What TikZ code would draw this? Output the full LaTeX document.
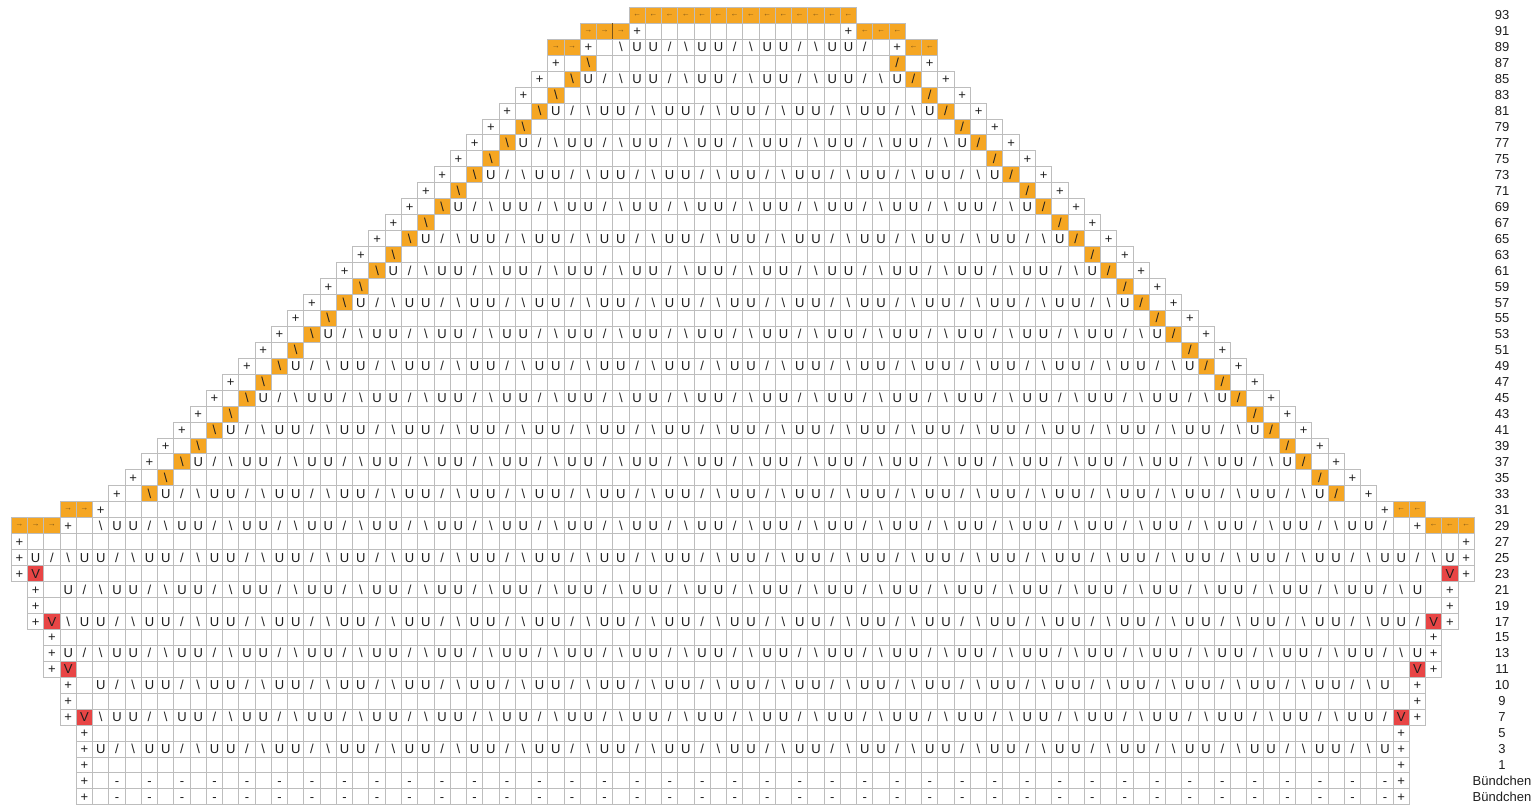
\documentclass[tikz,border=0pt]{standalone}
\usepackage{fontspec}
\setmainfont{Liberation Sans}
\definecolor{cellline}{HTML}{BDBDBD}
\definecolor{korange}{HTML}{F5A623}
\definecolor{kred}{HTML}{E84545}
\definecolor{karrow}{HTML}{7A5418}
\definecolor{ktext}{HTML}{1E1E1E}
\pgfdeclarelayer{bg}
\pgfsetlayers{bg,main}
\newcommand\cw{16.256}
\newcommand\ch{15.95}
\newcommand\gx{11.3}
\newcommand\gy{7.3}
% empty cells of row #1 from column #2 to #3
\newcommand\kc[3]{\foreach \c in {#2,...,#3}{\draw[gridcell] ({\gx+\c*\cw},{\gy+#1*\ch}) rectangle ++(\cw,\ch);}}
% symbol in a cell
\newcommand\ks[3]{\node[sym] (s#1x#2) at ({\gx+(#2+0.5)*\cw},{\gy+(#1+0.5)*\ch+4.65}) {#3};}
\newcommand\kfill[3]{\begin{pgfonlayer}{bg}\fill[#3] ({\gx+#2*\cw},{\gy+#1*\ch}) rectangle ++(\cw,\ch);\end{pgfonlayer}}
\newcommand\ko[3]{\kfill{#1}{#2}{korange}\ks{#1}{#2}{#3}}
\newcommand\kr[3]{\kfill{#1}{#2}{kred}\ks{#1}{#2}{#3}}
\newcommand\ka[3]{\kfill{#1}{#2}{korange}\node[arr] (a#1x#2) at ({\gx+(#2+0.5)*\cw},{\gy+(#1+0.5)*\ch}) {#3};}
% lace pattern
\newcommand\kp[4]{\foreach \c in {#2,...,#3}{\pgfmathtruncatemacro\m{mod(\c+#4,4)}\ks{#1}{\c}{\ifcase\m U\or U\or /\or \textbackslash\fi}}}
\begin{document}
\begin{tikzpicture}[x=1pt,y=-1pt,
  gridcell/.style={draw=cellline,line width=0.9pt},
  sym/.style={anchor=base,inner sep=0pt,font=\fontsize{13}{13}\selectfont,text=ktext},
  arr/.style={anchor=center,inner sep=0pt,font=\fontsize{8}{8}\selectfont,text=karrow},
  lbl/.style={anchor=base,inner sep=0pt,font=\fontsize{13}{13}\selectfont,text=ktext}]
\useasboundingbox (0,0) rectangle (1538,807);
\begin{pgfonlayer}{bg}\fill[white] (0,0) rectangle (1538,807);\end{pgfonlayer}
% row 93
\kc{0}{38}{51}
\foreach \c in {38,...,51}{\ka{0}{\c}{←}}
% row 91
\kc{1}{35}{54}
\ka{1}{35}{→}\ka{1}{36}{→}\ka{1}{37}{→}
\ks{1}{38}{+}\ks{1}{51}{+}
\ka{1}{52}{←}\ka{1}{53}{←}\ka{1}{54}{←}
\draw[karrow,line width=1.3pt] ({\gx+37*\cw},{\gy+1*\ch}) -- ++(0,\ch);
% row 89
\kc{2}{33}{56}
\ka{2}{33}{→}\ka{2}{34}{→}
\ks{2}{35}{+}
\kp{2}{37}{52}{2}
\ks{2}{54}{+}
\ka{2}{55}{←}\ka{2}{56}{←}
% triangle rows 87 ... 33
\foreach \k in {3,...,30}{
  \pgfmathtruncatemacro\L{36-\k}
  \pgfmathtruncatemacro\R{53+\k}
  \pgfmathtruncatemacro\Lo{\L+2}
  \pgfmathtruncatemacro\Ro{\R-2}
  \kc{\k}{\L}{\R}
  \ks{\k}{\L}{+}\ks{\k}{\R}{+}
  \ko{\k}{\Lo}{\textbackslash}\ko{\k}{\Ro}{/}
  \ifodd\k\else
    \pgfmathtruncatemacro\pa{\L+3}
    \pgfmathtruncatemacro\pb{\R-3}
    \pgfmathtruncatemacro\sh{mod(\k,4)==2 ? 0 : 2}
    \kp{\k}{\pa}{\pb}{\sh}
  \fi
}
% row 31
\kc{31}{3}{86}
\ka{31}{3}{→}\ka{31}{4}{→}
\ks{31}{5}{+}\ks{31}{84}{+}
\ka{31}{85}{←}\ka{31}{86}{←}
% row 29
\kc{32}{0}{89}
\ka{32}{0}{→}\ka{32}{1}{→}\ka{32}{2}{→}
\ks{32}{3}{+}
\kp{32}{5}{84}{2}
\ks{32}{86}{+}
\ka{32}{87}{←}\ka{32}{88}{←}\ka{32}{89}{←}
% row 27
\kc{33}{0}{89}
\ks{33}{0}{+}\ks{33}{89}{+}
% row 25
\kc{34}{0}{89}
\ks{34}{0}{+}\kp{34}{1}{88}{0}\ks{34}{89}{+}
% row 23
\kc{35}{0}{89}
\ks{35}{0}{+}\kr{35}{1}{V}\kr{35}{88}{V}\ks{35}{89}{+}
% row 21
\kc{36}{1}{88}
\ks{36}{1}{+}\kp{36}{3}{86}{2}\ks{36}{88}{+}
% row 19
\kc{37}{1}{88}
\ks{37}{1}{+}\ks{37}{88}{+}
% row 17
\kc{38}{1}{88}
\ks{38}{1}{+}\kr{38}{2}{V}\kp{38}{3}{86}{0}\kr{38}{87}{V}\ks{38}{88}{+}
% row 15
\kc{39}{2}{87}
\ks{39}{2}{+}\ks{39}{87}{+}
% row 13
\kc{40}{2}{87}
\ks{40}{2}{+}\kp{40}{3}{86}{2}\ks{40}{87}{+}
% row 11
\kc{41}{2}{87}
\ks{41}{2}{+}\kr{41}{3}{V}\kr{41}{86}{V}\ks{41}{87}{+}
% row 10
\kc{42}{3}{86}
\ks{42}{3}{+}\kp{42}{5}{84}{0}\ks{42}{86}{+}
% row 9
\kc{43}{3}{86}
\ks{43}{3}{+}\ks{43}{86}{+}
% row 7
\kc{44}{3}{86}
\ks{44}{3}{+}\kr{44}{4}{V}\kp{44}{5}{84}{2}\kr{44}{85}{V}\ks{44}{86}{+}
% row 5
\kc{45}{4}{85}
\ks{45}{4}{+}\ks{45}{85}{+}
% row 3
\kc{46}{4}{85}
\ks{46}{4}{+}\kp{46}{5}{84}{0}\ks{46}{85}{+}
% row 1
\kc{47}{4}{85}
\ks{47}{4}{+}\ks{47}{85}{+}
% Buendchen
\foreach \i in {48,49}{
  \kc{\i}{4}{85}
  \ks{\i}{4}{+}\ks{\i}{85}{+}
  \foreach \c in {6,8,...,84}{\ks{\i}{\c}{-}}
}
% row labels
\foreach \i in {0,...,41}{
  \pgfmathtruncatemacro\lab{93-2*\i}
  \node[lbl] (l\i) at (1502,{\gy+(\i+0.5)*\ch+4.65}) {\lab};
}
\foreach \i/\t in {42/10,43/9,44/7,45/5,46/3,47/1,48/Bündchen,49/Bündchen}{
  \node[lbl] (l\i) at (1502,{\gy+(\i+0.5)*\ch+4.65}) {\t};
}
\end{tikzpicture}
\end{document}
